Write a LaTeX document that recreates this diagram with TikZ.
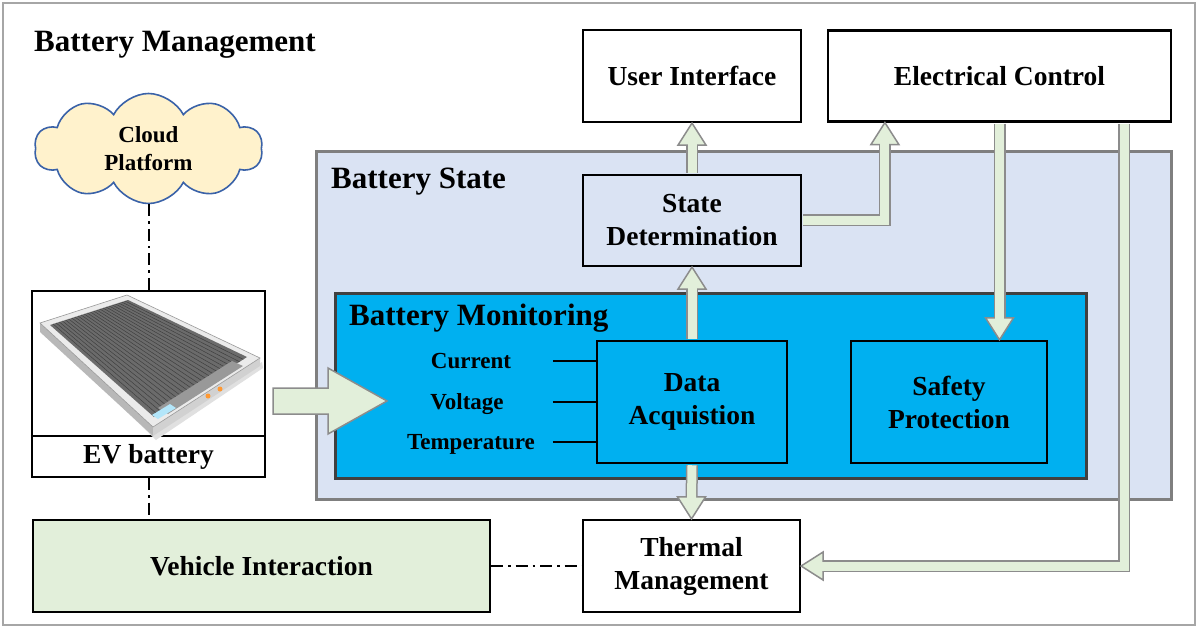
\documentclass[tikz,border=0pt]{standalone}
\usepackage{fontspec}
\setmainfont{Liberation Serif}
\usetikzlibrary{calc,shapes.symbols}

\definecolor{arrowfill}{HTML}{E2EFDA}
\definecolor{arrowline}{HTML}{8C8C8C}
\definecolor{statefill}{HTML}{DAE3F3}
\definecolor{stateline}{HTML}{7F7F7F}
\definecolor{monfill}{HTML}{00B0F0}
\definecolor{monline}{HTML}{404040}
\definecolor{cloudfill}{HTML}{FFF2CC}
\definecolor{cloudline}{HTML}{3A62A8}
\definecolor{framegray}{HTML}{A6A6A6}

\newcommand{\boxfont}{\fontsize{27.5}{33}\selectfont\bfseries}
\newcommand{\headfont}{\fontsize{31}{37}\selectfont\bfseries}
\newcommand{\smallfont}{\fontsize{23}{28}\selectfont\bfseries}

\tikzset{
  box/.style={draw, line width=2.2pt, fill=white, align=center, font=\boxfont, inner sep=0pt},
  monbox/.style={box, fill=monfill, line width=2.5pt},
  heading/.style={font=\headfont, inner sep=0pt, anchor=base west},
  sense/.style={font=\smallfont, inner sep=0pt, text height=15.5pt, text depth=0pt},
  fatback/.style={draw=arrowline, line width=12pt, line join=miter},
  fatfront/.style={draw=arrowfill, line width=9pt, line join=miter},
  headshape/.style={draw=arrowline, fill=arrowfill, line width=1.5pt, line join=miter},
  link/.style={line width=2pt, dash pattern=on 12pt off 5pt on 2.5pt off 5pt},
}

% head of a block arrow: tip, direction
\newcommand{\fathead}[2]{\draw[headshape, shift={(#1)}, rotate=#2] (0,0) -- (-22,14) -- (-22,-14) -- cycle;}
% block arrow: shaft path, tip, direction
\newcommand{\fatarrow}[3]{\draw[fatback] #1; \fathead{#2}{#3} \draw[fatfront] #1;}

\begin{document}
\begin{tikzpicture}[x=1pt, y=-1pt]
    % page and frame
    \fill[white] (0,0) rectangle (1198,628);
    \useasboundingbox (0,0) rectangle (1198,628);
    \draw[framegray, line width=2pt] (3,3) rectangle (1195,625);
    \node[heading] (title) at (34,52) {Battery Management};

    % Battery state and monitoring
    \node[draw=stateline, fill=statefill, line width=3pt, minimum width=855pt, minimum height=347pt, inner sep=0pt] (bstate) at (743.5,325.5) {};
    \node[heading] (bstatelbl) at (331,189) {Battery State};
    \node[draw=monline, fill=monfill, line width=3pt, minimum width=751pt, minimum height=185pt, inner sep=0pt] (bmon) at (710.5,385.5) {};
    \node[heading] (bmonlbl) at (349,325) {Battery Monitoring};

    % Boxes
    \node[box, minimum width=218pt, minimum height=92pt] (ui) at (692,76) {User Interface};
    \node[box, minimum width=343pt, minimum height=91pt] (ec) at (999.5,76) {Electrical Control};
    \node[box, fill=statefill, minimum width=218pt, minimum height=91pt] (sd) at (692,220.5) {State\\Determination};
    \node[monbox, minimum width=190pt, minimum height=122pt] (da) at (692,402) {Data\\Acquistion};
    \node[monbox, minimum width=196pt, minimum height=122pt] (sp) at (949,402) {Safety\\Protection};
    \node[box, minimum width=217pt, minimum height=92pt] (tm) at (691.5,566) {Thermal\\Management};
    \node[box, fill=arrowfill, minimum width=457pt, minimum height=92pt] (vi) at (261.5,566) {Vehicle Interaction};

    % Measured quantities
    \node[sense] (cur) at (471,361) {Current};
    \node[sense] (vol) at (467,402) {Voltage};
    \node[sense] (tmp) at (471,442) {Temperature};
    \foreach \q in {cur,vol,tmp}
      \draw[line width=2pt] ($(da.west |- \q)+(-43,0)$) -- (da.west |- \q);

    % Cloud
    \node[cloud, cloud puffs=10, cloud puff arc=125, aspect=2, draw=cloudline, fill=cloudfill, line width=1.6pt,
          minimum width=228pt, minimum height=110pt, inner sep=0pt, align=center, font=\fontsize{23}{28}\selectfont\bfseries] (cloud) at (148.5,148.5) {Cloud\\Platform};

    % EV battery
    \node[box, minimum width=233pt, minimum height=186pt] (ev) at (148.5,384) {};
    \draw[line width=2.2pt] ($(ev.south west)+(0,-42)$) -- ($(ev.south east)+(0,-42)$);
    \node[font=\boxfont, inner sep=0pt] (evlbl) at ($(ev.south)+(0,-21)$) {EV battery};
    % battery pack picture
    \fill[black!12] (46,333) -- (156,440) -- (263,368) -- (262,362) -- (153,430) -- (42,326) -- cycle;
    \fill[black!28] (40,323) -- (153,427) -- (153,436) -- (40,332) -- cycle;
    \fill[black!18] (153,427) -- (260,358) -- (260,366) -- (153,436) -- cycle;
    \draw[fill=black!8, draw=black!40, line width=0.6pt] (40,323) -- (127,295) -- (260,358) -- (153,427) -- cycle;
    \coordinate (pkl) at (50,325);
    \coordinate (pkt) at (128,300);
    \coordinate (pkr) at (247,357);
    \coordinate (pkb) at (154,417);
    \fill[black!58] (pkl) -- (pkt) -- (pkr) -- (pkb) -- cycle;
    \foreach \t in {0.04,0.08,...,0.97}
      \draw[black!75, line width=0.5pt] ($(pkl)!\t!(pkt)$) -- ($(pkb)!\t!(pkr)$);
    \fill[black!40] (158,408) -- (232,361) -- (243,366) -- (168,414) -- cycle;
    \fill[cyan!30] (152,415) -- (170,404) -- (176,408) -- (158,419) -- cycle;
    \fill[orange!80] (208,396) circle[radius=2.5pt] (220,389) circle[radius=2.5pt];

    % Big arrow into the monitoring
    \coordinate (evout) at (273,401);
    \coordinate (bmin) at (387,401);
    \draw[headshape] ($(evout)+(0,-13)$) -- ($(evout)+(55,-13)$) -- ($(evout)+(55,-33)$) -- (bmin)
      -- ($(evout)+(55,33)$) -- ($(evout)+(55,13)$) -- ($(evout)+(0,13)$) -- cycle;

    % Block arrows
    \coordinate (ecin) at ($(ec.south west)+(58,0)$);
    \coordinate (ecout) at ($(ec.south east)+(-48,1)$);
    \coordinate (spin) at (sp.north -| ec.south);
    \fatarrow{($(sd.north)+(0,-1)$) -- ($(ui.south)+(0,19)$)}{ui.south}{90}
    \fatarrow{($(da.north)+(0,-1)$) -- ($(sd.south)+(0,19)$)}{sd.south}{90}
    \fatarrow{($(sd.east)+(1,0)$) -| ($(ecin)+(0,19)$)}{ecin}{90}
    \fatarrow{($(ec.south)+(0,1)$) -- ($(spin)+(0,-19)$)}{spin}{-90}
    \fatarrow{(ecout) |- ($(tm.east)+(19,0)$)}{tm.east}{180}
    \fatarrow{($(da.south)+(0,1)$) -- ($(tm.north)+(0,-19)$)}{tm.north}{-90}

    % Dash-dot links
    \draw[link] (cloud.south) -- (cloud.south |- ev.north);
    \draw[link] (ev.south) -- (ev.south |- vi.north);
    \draw[link] (vi.east) -- (tm.west);
\end{tikzpicture}
\end{document}
